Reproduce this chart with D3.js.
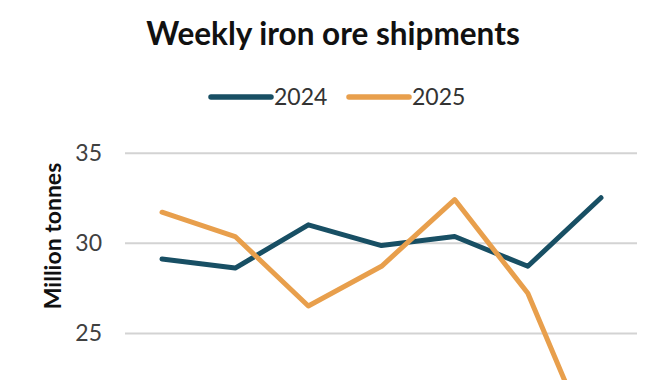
<!DOCTYPE html>
<html><head><meta charset="utf-8">
<script src="https://cdn.jsdelivr.net/npm/d3@7"></script>
<style>body{margin:0;background:#fff;overflow:hidden}svg{display:block}</style>
</head><body>
<svg id="c" width="670" height="380"></svg>
<script>
const weeks = ["W1","W2","W3","W4","W5","W6","W7"];
const series2024 = [29.1, 28.6, 31.0, 29.85, 30.35, 28.7, 32.5];
const series2025 = [31.7, 30.35, 26.5, 28.7, 32.4, 27.2, 17.6];
const yTicks = [25, 30, 35];
const seriesNames = ["2024", "2025"];
const colors = ["#184f64", "#e89f4c"];
const font = "Lato, 'Open Sans', sans-serif";

const svg = d3.select("#c");
const x = d3.scalePoint().domain(weeks).range([162, 601]);
const y = d3.scaleLinear().domain([15, 35]).range([513.3, 152.7]);

// gridlines
const yAxis = d3.axisLeft(y).tickValues(yTicks).tickSize(-(637 - 125)).tickPadding(23);
const g = svg.append("g").attr("transform", "translate(125,0)").call(yAxis);
g.select(".domain").remove();
g.selectAll(".tick line").attr("stroke", "#d3d3d3").attr("stroke-width", 2);
g.selectAll(".tick text").attr("font-family", font)
  .attr("font-size", 23).attr("fill", "#404040");

// axis title
svg.append("text").attr("transform", "translate(61,236) rotate(-90)")
  .attr("text-anchor", "middle").attr("font-family", font)
  .attr("font-weight", 700).attr("font-size", 23).attr("fill", "#111").text("Million tonnes");

// title
svg.append("text").attr("x", 333).attr("y", 45).attr("text-anchor", "middle")
  .attr("font-family", font).attr("font-weight", 700)
  .attr("font-size", 31.5).attr("fill", "#111").text("Weekly iron ore shipments");

// lines
const line = d3.line().x((d, i) => x(weeks[i])).y(d => y(d));
[series2024, series2025].forEach((s, k) => {
  svg.append("path").datum(s).attr("d", line).attr("fill", "none")
    .attr("stroke", colors[k]).attr("stroke-width", 5)
    .attr("stroke-linejoin", "round").attr("stroke-linecap", "round");
});

// legend
const legX = [211, 349];
seriesNames.forEach((n, k) => {
  svg.append("line").attr("x1", legX[k]).attr("x2", legX[k] + 60).attr("y1", 97).attr("y2", 97)
    .attr("stroke", colors[k]).attr("stroke-width", 5.5).attr("stroke-linecap", "round");
  svg.append("text").attr("x", legX[k] + 63).attr("y", 105)
    .attr("font-family", font).attr("font-size", 23)
    .attr("fill", "#333").text(n);
});
</script>
</body></html>
